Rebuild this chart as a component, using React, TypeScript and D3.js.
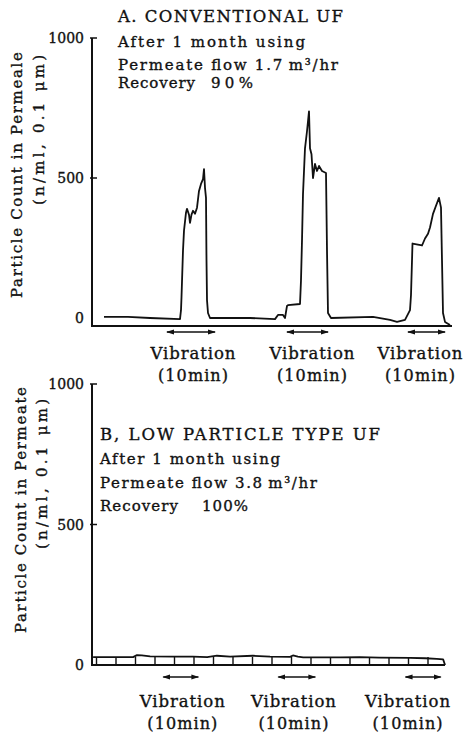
import React from "react";
import * as d3 from "d3";

// ---- Data: panel A (conventional UF) ----
const timeA = [2.2, 7, 11.4, 17.4, 17.6, 17.7, 18, 18.2, 18.6, 18.8, 19.2, 19.4, 19.7, 20, 20.4, 20.8, 21.2, 21.6, 22, 22.2, 22.4, 22.6, 22.7, 22.8, 23, 23.4, 31.4, 36.4, 37, 38, 38.4, 38.8, 39, 41.4, 41.6, 41.8, 42, 42.4, 42.8, 43.2, 43.4, 43.7, 44, 44.4, 44.8, 45.2, 45.8, 46.6, 46.8, 47, 47.6, 56, 59.4, 60.8, 62.4, 63.4, 63.6, 63.9, 65.8, 66.4, 67, 67.4, 68, 68.6, 69.2, 69.6, 69.8, 70, 70.4, 71.4];
const countA = [4, 4, 0, -4, 28, 74, 241, 312, 376, 390, 369, 340, 369, 383, 372, 394, 454, 479, 496, 532, 465, 429, 206, 64, 18, 0, 0, -4, 11, 11, 0, 43, 46, 50, 135, 277, 443, 606, 667, 738, 606, 585, 500, 550, 525, 543, 525, 518, 241, 18, 0, 4, -7, -14, -7, 28, 82, 266, 259, 284, 301, 323, 372, 401, 429, 394, 206, 18, -14, -25];

// ---- Data: panel B (low particle type UF) ----
const timeB = [-0.7, 7.5, 8.3, 9.3, 11, 16, 19.8, 22.7, 24.7, 27.4, 32.1, 35.6, 39.7, 40.3, 41.3, 42.4, 50, 54, 58, 64.3, 67.4, 69.8, 71.1, 71.5];
const countB = [28, 28, 35, 34, 31, 30, 30, 28, 33, 30, 33, 30, 29, 34, 30, 27, 27, 28, 26, 25, 24, 22, 20, 0];

const yTickValues = [0, 500, 1000];
const yTickMarks = [500, 1000];
const ladderTicksB = [0, 4, 8, 12, 16, 20, 24, 28, 32, 36, 40, 44, 48, 52, 56, 60, 64, 68];

// vibration periods (minutes) and label centres
const vibStartA = [14.8, 38.8, 63];
const vibEndA = [24.4, 47, 70.4];
const vibLabelA = [20, 43.8, 65.4];
const vibStartB = [13.7, 37.3, 63.4];
const vibEndB = [20.9, 44.9, 70.6];
const vibLabelB = [17.6, 40.4, 63.8];

const titleA = "A. CONVENTIONAL UF";
const infoA = ["After 1 month using", "Permeate flow 1.7\u2009m³/hr", "Recovery"];
const recoveryA = "90%";
const titleB = "B, LOW PARTICLE TYPE UF";
const infoB = ["After 1 month using", "Permeate flow 3.8\u2009m³/hr", "Recovery"];
const recoveryB = "100%";
const yTitle1A = "Particle Count in Permeale";
const yTitle1B = "Particle Count in Permeate";
const yTitle2 = "(n/ml, 0.1 \u03bcm)";
const vibText = "Vibration";
const vibSub = "(10min)";

const FONT = "'DejaVu Serif', 'Liberation Serif', serif";
const INK = "#111";

type PanelProps = {
  time: number[];
  count: number[];
  xRange: [number, number];
  yRange: [number, number];
  axisY: number;
  axisXEnd: number;
  arrowDy: number;
  vibStart: number[];
  vibEnd: number[];
  vibLabel: number[];
  vibBase: [number, number];
  ladder?: number[];
  title: string;
  info: string[];
  recovery: string;
  textX: number;
  textBase: number[];
  recX: number;
  titleLen: number;
  infoLen: number[];
  recLen: number;
  yTitle1: string;
  yTitle1Pos: [number, number];
  yTitle2Pos: [number, number];
};

function Panel(p: PanelProps) {
  const x = d3.scaleLinear().domain([0, 72]).range(p.xRange);
  const y = d3.scaleLinear().domain([0, 1000]).range(p.yRange);
  const pts = p.time.map((t, i) => [t, p.count[i]] as [number, number]);
  const line = d3
    .line<[number, number]>()
    .x((d) => x(d[0]))
    .y((d) => y(d[1]))
    .curve(d3.curveLinear);
  const axisX = 92;
  const top = y(1000);
  const textStyle = { stroke: INK, strokeWidth: 0.35 } as React.CSSProperties;
  return (
    <g fontFamily={FONT} fill={INK}>
      {/* axes */}
      <path
        d={`M${axisX},${top} V${p.axisY} H${p.axisXEnd}`}
        fill="none"
        stroke={INK}
        strokeWidth={2}
      />
      {yTickMarks.map((v) => (
        <line key={v} x1={axisX - 2} x2={axisX + 5} y1={y(v)} y2={y(v)} stroke={INK} strokeWidth={1.5} />
      ))}
      {yTickValues.map((v) => (
        <text key={v} x={84} y={y(v) + 5} textAnchor="end" fontSize={14} style={textStyle}>
          {v}
        </text>
      ))}
      {p.ladder &&
        p.ladder.map((t) => (
          <line key={t} x1={x(t)} x2={x(t)} y1={p.axisY} y2={p.axisY - 8} stroke={INK} strokeWidth={1.4} />
        ))}
      {/* trace */}
      <path d={line(pts) || ""} fill="none" stroke={INK} strokeWidth={1.8} strokeLinejoin="round" />
      {/* vibration arrows */}
      {p.vibStart.map((s, i) => (
        <line
          key={i}
          x1={x(s)}
          x2={x(p.vibEnd[i])}
          y1={p.axisY + p.arrowDy}
          y2={p.axisY + p.arrowDy}
          stroke={INK}
          strokeWidth={1.3}
          markerStart="url(#arrowHead)"
          markerEnd="url(#arrowHead)"
        />
      ))}
      {p.vibLabel.map((t, i) => (
        <g key={i} style={textStyle}>
          <text x={x(t)} y={p.vibBase[0]} textAnchor="middle" fontSize={16.5} textLength={85} lengthAdjust="spacing">
            {vibText}
          </text>
          <text x={x(t)} y={p.vibBase[1]} textAnchor="middle" fontSize={16} textLength={70} lengthAdjust="spacing">
            {vibSub}
          </text>
        </g>
      ))}
      {/* annotation block */}
      <g style={textStyle}>
        <text x={p.textX} y={p.textBase[0]} fontSize={16.5} textLength={p.titleLen} lengthAdjust="spacing">
          {p.title}
        </text>
        {p.info.map((s, i) => (
          <text key={i} x={p.textX} y={p.textBase[i + 1]} fontSize={15} textLength={p.infoLen[i]} lengthAdjust="spacing">
            {s}
          </text>
        ))}
        <text x={p.recX} y={p.textBase[3]} fontSize={15} textLength={p.recLen} lengthAdjust="spacing">
          {p.recovery}
        </text>
      </g>
      {/* y titles */}
      <g style={textStyle}>
        <text
          transform={`translate(${p.yTitle1Pos[0]},${p.yTitle1Pos[1]}) rotate(-90)`}
          textAnchor="middle"
          fontSize={15}
          textLength={246}
          lengthAdjust="spacing"
        >
          {p.yTitle1}
        </text>
        <text
          transform={`translate(${p.yTitle2Pos[0]},${p.yTitle2Pos[1]}) rotate(-90)`}
          textAnchor="middle"
          fontSize={15}
          textLength={150}
          lengthAdjust="spacing"
        >
          {yTitle2}
        </text>
      </g>
    </g>
  );
}

export default function App() {
  return (
    <svg
      width={468}
      height={733}
      viewBox="0 0 468 733"
      style={{ position: "absolute", left: 0, top: 0, background: "#fff" }}
    >
      <defs>
        <marker
          id="arrowHead"
          viewBox="0 0 8 6"
          refX={7}
          refY={3}
          markerWidth={8}
          markerHeight={6}
          markerUnits="userSpaceOnUse"
          orient="auto-start-reverse"
        >
          <path d="M0,0.5 L8,3 L0,5.5 Z" fill={INK} />
        </marker>
      </defs>
      <rect width={468} height={733} fill="#fff" />
      <Panel
        time={timeA}
        count={countA}
        xRange={[93, 453]}
        yRange={[318, 38]}
        axisY={326}
        axisXEnd={452}
        arrowDy={6}
        vibStart={vibStartA}
        vibEnd={vibEndA}
        vibLabel={vibLabelA}
        vibBase={[359, 381]}
        title={titleA}
        info={infoA}
        recovery={recoveryA}
        textX={118}
        textBase={[22, 47, 70, 88]}
        recX={211}
        titleLen={225}
        infoLen={[187, 220, 77]}
        recLen={42}
        yTitle1={yTitle1A}
        yTitle1Pos={[22, 175]}
        yTitle2Pos={[44, 130]}
      />
      <Panel
        time={timeB}
        count={countB}
        xRange={[96.5, 447.5]}
        yRange={[665, 384]}
        axisY={665}
        axisXEnd={445}
        arrowDy={12}
        vibStart={vibStartB}
        vibEnd={vibEndB}
        vibLabel={vibLabelB}
        vibBase={[707, 729]}
        ladder={ladderTicksB}
        title={titleB}
        info={infoB}
        recovery={recoveryB}
        textX={100}
        textBase={[440, 464, 488, 511]}
        recX={202}
        titleLen={280}
        infoLen={[180, 217, 78]}
        recLen={46}
        yTitle1={yTitle1B}
        yTitle1Pos={[26, 510]}
        yTitle2Pos={[47, 474]}
      />
    </svg>
  );
}
